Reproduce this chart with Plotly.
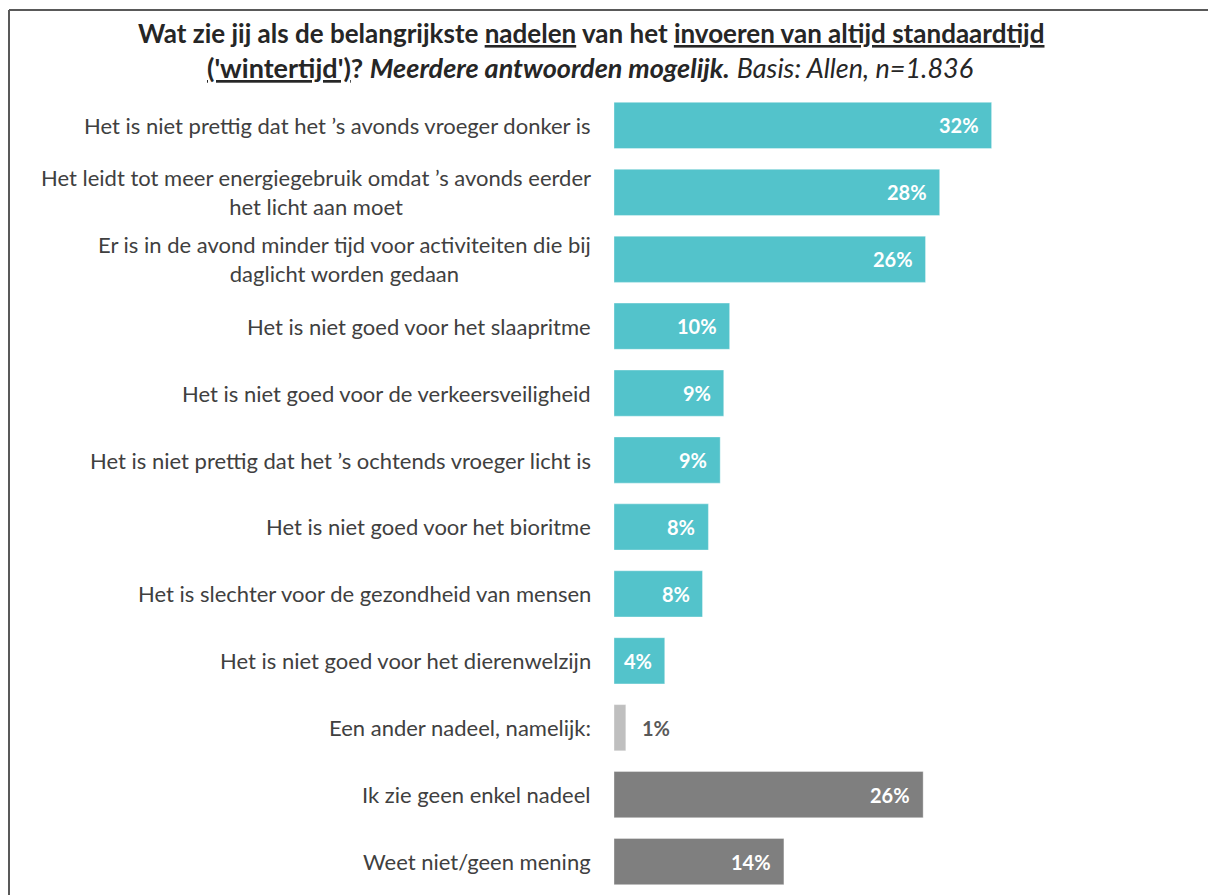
import plotly.graph_objects as go

# survey answers, top to bottom
labels = [
    "Het is niet prettig dat het ’s avonds vroeger donker is",
    "Het leidt tot meer energiegebruik omdat ’s avonds eerder<br>het licht aan moet",
    "Er is in de avond minder tijd voor activiteiten die bij<br>daglicht worden gedaan",
    "Het is niet goed voor het slaapritme",
    "Het is niet goed voor de verkeersveiligheid",
    "Het is niet prettig dat het ’s ochtends vroeger licht is",
    "Het is niet goed voor het bioritme",
    "Het is slechter voor de gezondheid van mensen",
    "Het is niet goed voor het dierenwelzijn",
    "Een ander nadeel, namelijk:",
    "Ik zie geen enkel nadeel",
    "Weet niet/geen mening",
]
values = [32.0, 27.6, 26.4, 9.8, 9.3, 9.0, 8.0, 7.5, 4.3, 1.0, 26.2, 14.4]
groups = ["nadeel"] * 9 + ["anders", "geen", "geen"]

TEAL = "#53C3CB"
LIGHT = "#BFBFBF"
DARK = "#7F7F7F"
colors = {"nadeel": TEAL, "anders": LIGHT, "geen": DARK}

# page body has an 8px margin, so the figure is shrunk by that much
OFF = 8
W, H = 1216 - OFF, 895 - OFF
ML, MR, MT, MB = 614 - OFF, 12, 92 - OFF, 0
PW, PH = W - ML - MR, H - MT - MB
FONT = "Lato, 'Open Sans', sans-serif"


def px_x(p):
    # p is a screen x position
    return (p - OFF - ML) / PW


def px_y(p):
    return (H - MB - (p - OFF)) / PH


fig = go.Figure(go.Bar(
    x=values,
    y=labels,
    orientation="h",
    width=0.69,
    marker=dict(color=[colors[g] for g in groups],
                line=dict(color="rgba(255,255,255,0.35)", width=1)),
    hoverinfo="skip",
))

annotations = []
for lab, v, g in zip(labels, values, groups):
    # category label, lines centered like the original
    annotations.append(dict(
        x=0, y=lab, xref="paper", yref="y", xanchor="right", yanchor="middle",
        xshift=-21, text=lab, align="center", showarrow=False,
        font=dict(family=FONT, size=22, color="#404040"),
    ))
    txt = f"<b>{round(v)}%</b>"
    if g == "anders":
        annotations.append(dict(
            x=v, y=lab, xref="x", yref="y", xanchor="left", yanchor="middle",
            xshift=14, text=txt, showarrow=False,
            font=dict(family=FONT, size=20, color="#595959"),
        ))
    else:
        annotations.append(dict(
            x=v, y=lab, xref="x", yref="y", xanchor="right", yanchor="middle",
            xshift=-11, text=txt, showarrow=False,
            font=dict(family=FONT, size=20, color="white"),
        ))

# two-line title
annotations.append(dict(
    x=px_x(591), y=px_y(33), xref="paper", yref="paper",
    xanchor="center", yanchor="middle", showarrow=False,
    text="<b>Wat zie jij als de belangrijkste <u>nadelen</u> van het "
         "<u>invoeren van altijd standaardtijd</u></b>",
    font=dict(family=FONT, size=26, color="#262626"),
))
annotations.append(dict(
    x=px_x(590), y=px_y(67), xref="paper", yref="paper",
    xanchor="center", yanchor="middle", showarrow=False,
    text="<b><u>('wintertijd')</u>? <i>Meerdere antwoorden mogelijk.</i></b>"
         " <i>Basis: Allen, n=1.836</i>",
    font=dict(family=FONT, size=27, color="#262626"),
))

shapes = [
    dict(type="line", xref="paper", yref="paper",
         x0=px_x(9), x1=px_x(9), y0=px_y(10), y1=px_y(900),
         line=dict(color="#595959", width=2)),
    dict(type="line", xref="paper", yref="paper",
         x0=px_x(9), x1=px_x(1220), y0=px_y(10), y1=px_y(10),
         line=dict(color="#595959", width=2)),
]

fig.update_layout(
    width=W, height=H,
    margin=dict(l=ML, r=MR, t=MT, b=MB, pad=0),
    paper_bgcolor="white", plot_bgcolor="white",
    showlegend=False,
    xaxis=dict(range=[0, 50], visible=False, fixedrange=True),
    yaxis=dict(autorange="reversed", showticklabels=False, showgrid=False,
               zeroline=False, showline=False, ticks="", fixedrange=True),
    annotations=annotations,
    shapes=shapes,
)

fig.write_html("out.html")
